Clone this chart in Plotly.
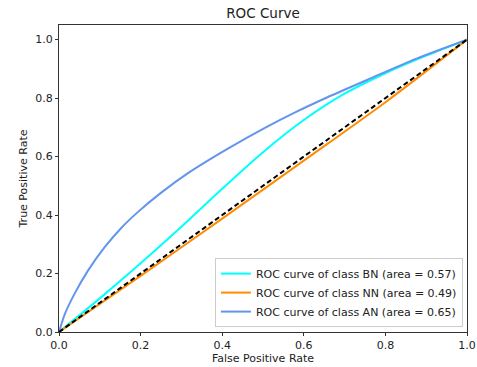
import numpy as np
import plotly.graph_objects as go

# ROC operating points (false positive rate, true positive rate) per class
fpr_bn = [0.0, 0.1, 0.2, 0.3, 0.4, 0.5, 0.6, 0.7, 0.8, 0.9, 1.0]
tpr_bn = [0.0, 0.115, 0.235, 0.36, 0.49, 0.615, 0.725, 0.815, 0.885, 0.945, 1.0]

fpr_nn = [0.0, 0.2, 0.4, 0.6, 0.8, 1.0]
tpr_nn = [0.0, 0.192, 0.388, 0.586, 0.786, 1.0]

fpr_an = [0.0, 0.015, 0.039, 0.071, 0.112, 0.152, 0.193, 0.249, 0.318, 0.415,
          0.507, 0.58, 0.658, 0.755, 0.876, 1.0]
tpr_an = [0.0, 0.064, 0.133, 0.21, 0.29, 0.355, 0.41, 0.475, 0.545, 0.628,
          0.70, 0.752, 0.803, 0.862, 0.935, 1.0]

classes = ["BN", "NN", "AN"]
colors = ["#00FFFF", "#FF8C00", "#6495ED"]
curves = [(fpr_bn, tpr_bn), (fpr_nn, tpr_nn), (fpr_an, tpr_an)]

x_ticks = [0.0, 0.2, 0.4, 0.6, 0.8, 1.0]
y_ticks = [0.0, 0.2, 0.4, 0.6, 0.8, 1.0]

FONT = "DejaVu Sans"
FS = 11

fig = go.Figure()
for name, color, (fx, ty) in zip(classes, colors, curves):
    auc = float(np.trapezoid(ty, fx))
    fig.add_trace(go.Scatter(
        x=fx, y=ty, mode="lines",
        line=dict(color=color, width=2, shape="spline", smoothing=0.8),
        name=f"ROC curve of class {name} (area = {auc:.2f})",
    ))

# chance diagonal
fig.add_trace(go.Scatter(
    x=[0, 1], y=[0, 1], mode="lines",
    line=dict(color="black", width=2, dash="5px,3px"),
    showlegend=False,
))

axis_common = dict(
    showgrid=False, zeroline=False, showline=True, linecolor="#333", linewidth=1,
    mirror=True, ticks="outside", ticklen=3, tickcolor="#333", automargin=False,
    tickfont=dict(family=FONT, size=FS, color="#222"),
)

fig.update_layout(
    width=477, height=367,
    margin=dict(l=59, r=10, t=25, b=35),
    paper_bgcolor="white", plot_bgcolor="white",
    font=dict(family=FONT, size=FS, color="#222"),
    title=dict(text="ROC Curve", x=0.5, xref="paper", y=0.965, yanchor="middle",
               font=dict(family=FONT, size=13.5, color="#222")),
    xaxis=dict(range=[0, 1], tickvals=x_ticks, tickformat=".1f", ticklabeloverflow="allow",
               title=dict(text="False Positive Rate", font=dict(family=FONT, size=FS), standoff=3),
               **axis_common),
    yaxis=dict(range=[0, 1.05], tickvals=y_ticks, tickformat=".1f",
               title=dict(text="True Positive Rate", font=dict(family=FONT, size=FS), standoff=5),
               **axis_common),
    legend=dict(x=0.99, y=0.016, xanchor="right", yanchor="bottom",
                bgcolor="rgba(255,255,255,0.8)", bordercolor="#ccc", borderwidth=1,
                font=dict(family=FONT, size=FS, color="#222"), itemwidth=30,
                tracegroupgap=0),
    showlegend=True,
)

fig.write_html("out.html")
